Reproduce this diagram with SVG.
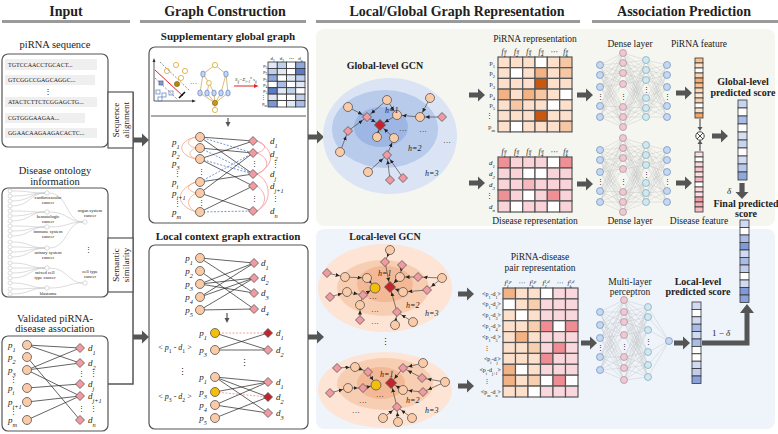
<svg xmlns="http://www.w3.org/2000/svg" width="778" height="434" viewBox="0 0 778 434">
<defs>
<style>
text{font-family:"Liberation Serif","DejaVu Serif",serif;fill:#222}
.h{font-size:14px;font-weight:bold}
.st{font-size:11px;font-weight:bold}
.lb{font-size:10.5px}
.sm{font-size:9.5px}
.bs{font-size:10px;font-weight:bold}
.bx{fill:#fff;stroke:#555;stroke-width:1.2}
.pc{fill:#fbcaa6;stroke:#555;stroke-width:.8}
.dd{fill:#f29aa2;stroke:#555;stroke-width:.8}
.dr{fill:#c3232b;stroke:#555;stroke-width:.8}
.yc{fill:#f4bf0c;stroke:#555;stroke-width:.8}
.e{stroke:#222;stroke-width:.7;fill:none}
.bd{stroke:#4f7fcf;stroke-width:.8;stroke-dasharray:2 1.5;fill:none}
.oa{stroke:#f2a27e;stroke-width:.8;fill:none}
.pa{stroke:#f2959c;stroke-width:.8;fill:none}
.pd{stroke:#f08a8a;stroke-width:.8;stroke-dasharray:2 1.5;fill:none}
.ge{stroke:#333;stroke-width:.6;marker-end:url(#ah)}
.it{font-style:italic}
.sb{font-size:70%;baseline-shift:sub}
.sp{font-size:65%;baseline-shift:super}
.ar{fill:#555}
.cl rect{stroke:#555;stroke-width:1.2}
.vc rect{stroke:#333;stroke-width:.8}
.nn{stroke:#bdbdbd;stroke-width:.35;fill:none}
.n1{fill:#c6d8f0;stroke:#6c8cc2;stroke-width:.7}
.n2{fill:#eccad2;stroke:#b2899a;stroke-width:.7}
.n3{fill:#d2e8ef;stroke:#7ba7bc;stroke-width:.7}
.tl{font-size:4.6px;fill:#555}
.pl{font-size:9px;font-style:italic}
.hl{font-size:8px;font-style:italic}
.lf{fill:#fff;stroke:#c4c4c4;stroke-width:.6}
.vd{font-size:6.5px;font-style:normal}
</style>
<path id="dm" d="M0-4.5L4.5 0L0 4.5L-4.5 0Z"/>
<path id="dl" d="M0-5.5L5.5 0L0 5.5L-5.5 0Z"/>
<path id="ar" d="M0-2.6H9V-6.5L16 0L9 6.5V2.6H0Z"/>
<marker id="ah" markerWidth="10" markerHeight="6" refX="9.5" refY="2" orient="auto" markerUnits="userSpaceOnUse"><path d="M0 0L4 2L0 4Z" fill="#222"/></marker>
<g id="net">
<path class="nn" d="M600 65L623 53M600 65L623 63M600 65L623 73M600 65L623 84M600 65L623 107M600 65L623 117M600 65L623 127M600 75L623 53M600 75L623 63M600 75L623 73M600 75L623 84M600 75L623 107M600 75L623 117M600 75L623 127M600 87L623 53M600 87L623 63M600 87L623 73M600 87L623 84M600 87L623 107M600 87L623 117M600 87L623 127M600 106L623 53M600 106L623 63M600 106L623 73M600 106L623 84M600 106L623 107M600 106L623 117M600 106L623 127M600 117L623 53M600 117L623 63M600 117L623 73M600 117L623 84M600 117L623 107M600 117L623 117M600 117L623 127"/>
<path class="nn" d="M623 53L646 60M623 53L646 70M623 53L646 80M623 53L646 98M623 53L646 108M623 53L646 117M623 63L646 60M623 63L646 70M623 63L646 80M623 63L646 98M623 63L646 108M623 63L646 117M623 73L646 60M623 73L646 70M623 73L646 80M623 73L646 98M623 73L646 108M623 73L646 117M623 84L646 60M623 84L646 70M623 84L646 80M623 84L646 98M623 84L646 108M623 84L646 117M623 107L646 60M623 107L646 70M623 107L646 80M623 107L646 98M623 107L646 108M623 107L646 117M623 117L646 60M623 117L646 70M623 117L646 80M623 117L646 98M623 117L646 108M623 117L646 117M623 127L646 60M623 127L646 70M623 127L646 80M623 127L646 98M623 127L646 108M623 127L646 117"/>
<path class="nn" d="M646 60L667 65M646 60L667 75M646 60L667 87M646 60L667 106M646 60L667 117M646 70L667 65M646 70L667 75M646 70L667 87M646 70L667 106M646 70L667 117M646 80L667 65M646 80L667 75M646 80L667 87M646 80L667 106M646 80L667 117M646 98L667 65M646 98L667 75M646 98L667 87M646 98L667 106M646 98L667 117M646 108L667 65M646 108L667 75M646 108L667 87M646 108L667 106M646 108L667 117M646 117L667 65M646 117L667 75M646 117L667 87M646 117L667 106M646 117L667 117"/>
<g class="n1"><circle cx="600" cy="65" r="3.5"/><circle cx="600" cy="75" r="3.5"/><circle cx="600" cy="87" r="3.5"/><circle cx="600" cy="106" r="3.5"/><circle cx="600" cy="117" r="3.5"/></g>
<g class="n2"><circle cx="623" cy="53" r="3.5"/><circle cx="623" cy="63" r="3.5"/><circle cx="623" cy="73" r="3.5"/><circle cx="623" cy="84" r="3.5"/><circle cx="623" cy="107" r="3.5"/><circle cx="623" cy="117" r="3.5"/><circle cx="623" cy="127" r="3.5"/></g>
<g class="n3"><circle cx="646" cy="60" r="3.5"/><circle cx="646" cy="70" r="3.5"/><circle cx="646" cy="80" r="3.5"/><circle cx="646" cy="98" r="3.5"/><circle cx="646" cy="108" r="3.5"/><circle cx="646" cy="117" r="3.5"/></g>
<g class="n1"><circle cx="667" cy="65" r="3.5"/><circle cx="667" cy="75" r="3.5"/><circle cx="667" cy="87" r="3.5"/><circle cx="667" cy="106" r="3.5"/><circle cx="667" cy="117" r="3.5"/></g>
<g font-size="7" text-anchor="middle"><text x="600" y="99">⋮</text><text x="623" y="99">⋮</text><text x="646" y="92">⋮</text><text x="667" y="99">⋮</text></g>
</g>
</defs>
<rect width="778" height="434" fill="#fff"/>

<!-- panels -->
<rect x="316" y="29" width="459" height="197" rx="8" fill="#f5f6f0"/>
<rect x="316" y="229" width="459" height="200" rx="8" fill="#eef4fa"/>

<!-- headers -->
<g id="headers">
<text class="h" x="66" y="16" text-anchor="middle">Input</text>
<text class="h" x="225" y="16" text-anchor="middle">Graph Construction</text>
<text class="h" x="457" y="16" text-anchor="middle">Local/Global Graph Representation</text>
<text class="h" x="684" y="16" text-anchor="middle">Association Prediction</text>
<g fill="#9a9a9a"><rect x="2" y="20" width="128" height="3"/><rect x="140" y="20" width="166" height="3"/><rect x="316" y="20" width="264" height="3"/><rect x="592" y="20" width="186" height="3"/></g>
</g>

<!-- connectors -->
<g id="connectors">
<path d="M133 92V384H108" fill="none" stroke="#555" stroke-width="1.5"/>
<use href="#ar" class="ar" transform="translate(133 140)"/>
<use href="#ar" class="ar" transform="translate(133 337)"/>
<use href="#ar" class="ar" transform="translate(308 137)"/>
<use href="#ar" class="ar" transform="translate(308 337)"/>
<use href="#ar" class="ar" transform="translate(469 95)"/>
<use href="#ar" class="ar" transform="translate(469 183)"/>
<use href="#ar" class="ar" transform="translate(577 95)"/>
<use href="#ar" class="ar" transform="translate(577 184)"/>
<use href="#ar" class="ar" transform="translate(458 294)"/>
<use href="#ar" class="ar" transform="translate(458 386)"/>
<use href="#ar" class="ar" transform="translate(581 343)"/>
<use href="#ar" class="ar" transform="translate(676 93)"/>
<use href="#ar" class="ar" transform="translate(676 183)"/>
<use href="#ar" class="ar" transform="translate(674 343)"/>
<use href="#ar" class="ar" transform="translate(712 136)"/>
<use href="#ar" class="ar" transform="translate(742 183) rotate(90)"/>
<path class="ar" d="M702 340.5H744.5V313H740L747 304L754 313H749.5V345.5H702Z"/>
<path d="M700 119V128M700 151V143" stroke="#555" stroke-width="1.2"/>
<path d="M697.5 127L700 131L702.5 127ZM697.5 144L700 140L702.5 144Z" fill="#555"/>
</g>

<!-- Input: piRNA sequence -->
<g id="pirna-sequence">
<text class="lb" x="55" y="48" text-anchor="middle">piRNA sequence</text>
<rect class="bx" x="2" y="54" width="106" height="93" rx="6"/>
<g fill="#efefef"><rect x="5" y="59" width="92" height="11"/><rect x="5" y="75" width="90" height="10"/><rect x="5" y="97" width="92" height="10"/><rect x="5" y="113" width="80" height="10"/><rect x="5" y="128" width="92" height="10"/></g>
<g font-size="6"><text x="8" y="66.5">TGTCCAACCTGCACT...</text><text x="8" y="82">GTCGGCCGAGCAGGC...</text><text x="8" y="104">ATACTCTTCTCGGAGCTG...</text><text x="8" y="120">CGTGGGAAGAA...</text><text x="8" y="135">GGAACAAGAAGACACTC...</text></g>
<text x="48" y="94" font-size="8" text-anchor="middle">⋮</text>
</g>
<g id="sequence-alignment">
<rect x="108" y="92" width="25" height="56" fill="#fff" stroke="#555" stroke-width="1.2"/>
<text font-size="9" text-anchor="middle" transform="translate(121 120) rotate(-90)"><tspan x="0" y="-2">Sequence</tspan><tspan x="0" y="8">alignment</tspan></text>
</g>

<!-- Input: disease ontology -->
<g id="disease-ontology">
<text class="lb" x="55" y="174" text-anchor="middle">Disease ontology</text>
<text class="lb" x="55" y="184.5" text-anchor="middle">information</text>
<rect class="bx" x="2" y="188" width="106" height="109" rx="6"/>
<g stroke="#c4c4c4" stroke-width=".6" fill="none">
<path d="M12 191C30 191 30 193 45 193M12 196C30 196 30 193 45 193M12 201C30 201 30 193 45 193M12 206C30 206 30 193 45 193"/>
<path d="M12 211C30 211 30 212 45 212M12 216C30 216 30 212 45 212M12 221C30 221 30 212 45 212"/>
<path d="M12 226C30 226 30 227 45 227M12 231C30 231 30 227 45 227M12 236C30 236 30 227 45 227"/>
<path d="M12 242C30 242 30 248 45 248M12 247C30 247 30 248 45 248M12 252C30 252 30 248 45 248M12 257C30 257 30 248 45 248"/>
<path d="M12 263C30 263 30 268 45 268M12 268C30 268 30 268 45 268M12 273C30 273 30 268 45 268M12 278C30 278 30 268 45 268"/>
<path d="M12 283C30 283 30 288 45 288M12 289C30 289 30 288 45 288M12 294C30 294 30 288 45 288"/>
<path d="M49 193C68 193 66 222 83 222M49 212C68 212 68 222 83 222M49 227C68 227 68 222 83 222M49 248C68 248 66 222 83 222"/>
<path d="M49 268C68 268 68 283 83 283M49 288C68 288 68 283 83 283"/>
</g>
<g class="lf">
<circle cx="10" cy="191" r="2"/><circle cx="10" cy="196" r="2"/><circle cx="10" cy="201" r="2"/><circle cx="10" cy="206" r="2"/><circle cx="10" cy="211" r="2"/><circle cx="10" cy="216" r="2"/><circle cx="10" cy="221" r="2"/><circle cx="10" cy="226" r="2"/><circle cx="10" cy="231" r="2"/><circle cx="10" cy="236" r="2"/><circle cx="10" cy="242" r="2"/><circle cx="10" cy="247" r="2"/><circle cx="10" cy="252" r="2"/><circle cx="10" cy="257" r="2"/><circle cx="10" cy="263" r="2"/><circle cx="10" cy="268" r="2"/><circle cx="10" cy="273" r="2"/><circle cx="10" cy="278" r="2"/><circle cx="10" cy="283" r="2"/><circle cx="10" cy="289" r="2"/><circle cx="10" cy="294" r="2"/>
<circle cx="47" cy="193" r="2.2"/><circle cx="47" cy="212" r="2.2"/><circle cx="47" cy="227" r="2.2"/><circle cx="47" cy="248" r="2.2"/><circle cx="47" cy="268" r="2.2"/><circle cx="47" cy="288" r="2.2"/><circle cx="85" cy="222" r="2.2"/><circle cx="85" cy="283" r="2.2"/>
</g>
<g class="tl" text-anchor="middle">
<text x="48" y="199">cardiovascular</text><text x="48" y="204">cancer</text>
<text x="48" y="218">hematologic</text><text x="48" y="223">cancer</text>
<text x="48" y="232.5">immune system</text><text x="48" y="237.5">cancer</text>
<text x="48" y="254">urinary system</text><text x="48" y="259">cancer</text>
<text x="45" y="274">mixed cell</text><text x="45" y="279">type cancer</text>
<text x="48" y="295">blastoma</text>
<text x="90" y="212">organ system</text><text x="90" y="217">cancer</text>
<text x="90" y="273">cell type</text><text x="90" y="278">cancer</text>
</g>
<text x="88" y="252" font-size="7" text-anchor="middle" fill="#555">⋮</text>
</g>
<g id="semantic-similarity">
<rect x="108" y="238" width="25" height="54" fill="#fff" stroke="#555" stroke-width="1.2"/>
<text font-size="9" text-anchor="middle" transform="translate(121 265) rotate(-90)"><tspan x="0" y="-2">Semantic</tspan><tspan x="0" y="8">similarity</tspan></text>
</g>

<!-- Input: validated associations -->
<g id="validated-association">
<text class="lb" x="55" y="322" text-anchor="middle">Validated piRNA-</text>
<text class="lb" x="55" y="332" text-anchor="middle">disease association</text>
<rect class="bx" x="2" y="336" width="106" height="95" rx="6"/>
<path class="e" d="M27 345L80 348M27 345L80 363M27 357L80 420M27 370L80 348M27 370L80 363M27 370L80 396M27 388L80 384M27 402L80 396M27 420L80 396"/>
<g class="pc"><circle cx="27" cy="345" r="4.5"/><circle cx="27" cy="357" r="4.5"/><circle cx="27" cy="370" r="4.5"/><circle cx="27" cy="388" r="4.5"/><circle cx="27" cy="402" r="4.5"/><circle cx="27" cy="420" r="4.5"/></g>
<g class="dd"><use href="#dm" x="80" y="348"/><use href="#dm" x="80" y="363"/><use href="#dm" x="80" y="384"/><use href="#dm" x="80" y="396"/><use href="#dm" x="80" y="420"/></g>
<g class="pl"><text x="8" y="348">p<tspan class="sb">1</tspan></text><text x="8" y="360">p<tspan class="sb">2</tspan></text><text x="8" y="373">p<tspan class="sb">3</tspan></text><text class="vd" x="10" y="382">⋮</text><text x="8" y="391">p<tspan class="sb">i</tspan></text><text x="8" y="405">p<tspan class="sb">i+1</tspan></text><text class="vd" x="10" y="414">⋮</text><text x="8" y="423">p<tspan class="sb">m</tspan></text>
<text x="88" y="351">d<tspan class="sb">1</tspan></text><text x="88" y="366">d<tspan class="sb">2</tspan></text><text class="vd" x="90" y="376">⋮</text><text x="88" y="387">d<tspan class="sb">j</tspan></text><text x="88" y="399">d<tspan class="sb">j+1</tspan></text><text class="vd" x="90" y="411">⋮</text><text x="88" y="423">d<tspan class="sb">n</tspan></text>
<text class="vd" x="78" y="376">⋮</text><text class="vd" x="78" y="411">⋮</text></g>
</g>

<!-- Graph construction: supplementary global graph -->
<g id="supplementary-global-graph">
<text class="st" x="228" y="40" text-anchor="middle">Supplementary  global graph</text>
<rect class="bx" x="149" y="47" width="159" height="176" rx="6"/>
<path d="M154 101V60M154 101H194" stroke="#333" stroke-width=".8" fill="none"/>
<path d="M152.5 62L154 58L155.5 62ZM192 99.5L196 101L192 102.5Z" fill="#333"/>
<path d="M155 70L183 96" stroke="#e02424" stroke-width="1"/>
<path d="M155 78L178 100M160 62L190 91" stroke="#444" stroke-width=".6" stroke-dasharray="2 1.5"/>
<path d="M179 98L185 92" stroke="#111" stroke-width="1.6"/>
<g fill="none" stroke="#d9a628" stroke-width=".8"><circle cx="167" cy="71" r="2.6"/><circle cx="176" cy="65" r="2.6"/><circle cx="185" cy="71" r="2.6"/><circle cx="181" cy="78" r="2.6"/></g>
<circle cx="177" cy="84" r="2.6" fill="#b8860b" stroke="#7a5a08" stroke-width=".6"/>
<g fill="none" stroke="#6b8cc8" stroke-width=".8"><rect x="156" y="90" width="4" height="4"/><rect x="162" y="93" width="4" height="4"/><rect x="169" y="91" width="4" height="4"/><rect x="158" y="97" width="4" height="4"/></g>
<rect x="159" y="81" width="4" height="4" fill="#8a9ab8" stroke="#4f6fa8" stroke-width=".8"/>
<text x="190" y="86" font-size="7">···</text>
<path d="M215 65L203 74M215 65L226 74M203 74L200 93M203 74L209 83M226 74L228 93M226 74L221 93M209 83L207 93M209 83L214 93M200 93L215 103M207 93L215 103M214 93L215 103M221 93L215 103M228 93L215 103M215 103L215 110" stroke="#c9a040" stroke-width=".7" fill="none"/>
<g fill="#fff" stroke="#d9a628" stroke-width=".8"><circle cx="215" cy="65" r="2.6"/><circle cx="209" cy="83" r="2.4"/><circle cx="215" cy="110" r="2.6"/></g>
<g fill="#c6d5f0" stroke="#5a80c8" stroke-width=".7"><ellipse cx="203" cy="74" rx="2.2" ry="3"/><ellipse cx="226" cy="74" rx="2.2" ry="3"/><ellipse cx="200" cy="93" rx="2.2" ry="3"/><ellipse cx="207" cy="93" rx="2.2" ry="3"/><ellipse cx="214" cy="93" rx="2.2" ry="3"/><ellipse cx="221" cy="93" rx="2.2" ry="3"/><ellipse cx="228" cy="93" rx="2.2" ry="3"/></g>
<circle cx="215" cy="103" r="2.6" fill="#c99a1a" stroke="#7a5a08" stroke-width=".6"/>
<text x="235" y="81" font-size="4.8" class="it">S<tspan class="sb">ij</tspan>=Σ<tspan class="sb">i=1</tspan><tspan class="sp">n</tspan> s<tspan class="sb">ij</tspan></text>
<path d="M234 86H255" stroke="#e02424" stroke-width="1"/>
<path d="M254 84L258.5 86L254 88Z" fill="#e02424"/>
<g class="vc">
<rect x="268" y="62" width="9.25" height="6.43" fill="#e0e8f6"/><rect x="277.25" y="62" width="9.25" height="6.43" fill="#c0cfec"/><rect x="286.5" y="62" width="9.25" height="6.43" fill="#fff"/><rect x="295.75" y="62" width="9.25" height="6.43" fill="#8ea8dc"/>
<rect x="268" y="68.43" width="9.25" height="6.43" fill="#c0cfec"/><rect x="277.25" y="68.43" width="9.25" height="6.43" fill="#e0e8f6"/><rect x="286.5" y="68.43" width="9.25" height="6.43" fill="#fff"/><rect x="295.75" y="68.43" width="9.25" height="6.43" fill="#5c7bc4"/>
<rect x="268" y="74.86" width="9.25" height="6.43" fill="#8ea8dc"/><rect x="277.25" y="74.86" width="9.25" height="6.43" fill="#fff"/><rect x="286.5" y="74.86" width="9.25" height="6.43" fill="#e0e8f6"/><rect x="295.75" y="74.86" width="9.25" height="6.43" fill="#c0cfec"/>
<rect x="268" y="81.29" width="9.25" height="6.43" fill="#fff"/><rect x="277.25" y="81.29" width="9.25" height="6.43" fill="#a8bce6"/><rect x="286.5" y="81.29" width="9.25" height="6.43" fill="#fff"/><rect x="295.75" y="81.29" width="9.25" height="6.43" fill="#e0e8f6"/>
<rect x="268" y="87.71" width="9.25" height="6.43" fill="#5c7bc4"/><rect x="277.25" y="87.71" width="9.25" height="6.43" fill="#e0e8f6"/><rect x="286.5" y="87.71" width="9.25" height="6.43" fill="#c0cfec"/><rect x="295.75" y="87.71" width="9.25" height="6.43" fill="#fff"/>
<rect x="268" y="94.14" width="9.25" height="6.43" fill="#e0e8f6"/><rect x="277.25" y="94.14" width="9.25" height="6.43" fill="#fff"/><rect x="286.5" y="94.14" width="9.25" height="6.43" fill="#fff"/><rect x="295.75" y="94.14" width="9.25" height="6.43" fill="#c0cfec"/>
<rect x="268" y="100.57" width="9.25" height="6.43" fill="#7c96d4"/><rect x="277.25" y="100.57" width="9.25" height="6.43" fill="#fff"/><rect x="286.5" y="100.57" width="9.25" height="6.43" fill="#e0e8f6"/><rect x="295.75" y="100.57" width="9.25" height="6.43" fill="#a8bce6"/>
</g>
<g font-size="5" text-anchor="middle"><text x="272.6" y="60">d<tspan class="sb">1</tspan></text><text x="281.9" y="60">d<tspan class="sb">2</tspan></text><text x="291.1" y="60">⋯</text><text x="300.4" y="60">d<tspan class="sb">n</tspan></text></g>
<g font-size="4.5" text-anchor="end"><text x="267" y="66.7">p<tspan class="sb">1</tspan></text><text x="267" y="73.1">p<tspan class="sb">2</tspan></text><text x="267" y="79.6">p<tspan class="sb">3</tspan></text><text x="267" y="86">p<tspan class="sb">4</tspan></text><text x="267" y="92.4">p<tspan class="sb">5</tspan></text><text x="266" y="98.9">⋮</text><text x="267" y="105.3">p<tspan class="sb">m</tspan></text></g>
<path d="M151 116H306" stroke="#aaa" stroke-width="2"/>
<path d="M228 118V123" stroke="#555" stroke-width="1.2"/><path d="M225.5 122L228 127L230.5 122Z" fill="#555"/>
<path class="oa" d="M196 137C186 139 186 146 196 148M196 137C177 141 177 155 196 159M196 148C188 151 188 156 196 159M196 182C186 185 186 190 196 193M196 182C175 190 175 205 196 212M196 193C186 199 186 206 196 212"/>
<path class="pa" d="M257 141C267 144 267 150 257 153M257 153C270 158 270 169 257 174M257 174C272 182 272 203 257 211M257 186C267 193 267 204 257 211M257 141C275 150 275 165 257 174"/>
<path class="bd" d="M200 137L253 153M200 148L253 174M200 159L253 174M200 182L253 153M200 212L253 211"/>
<path class="e" d="M200 137L253 141M200 137L253 174M200 148L253 153M200 159L253 141M200 159L253 186M200 182L253 174M200 193L253 153M200 193L253 211M200 212L253 186"/>
<g class="pc"><circle cx="200" cy="137" r="4.5"/><circle cx="200" cy="148" r="4.5"/><circle cx="200" cy="159" r="4.5"/><circle cx="200" cy="182" r="4.5"/><circle cx="200" cy="193" r="4.5"/><circle cx="200" cy="212" r="4.5"/></g>
<g class="dd"><use href="#dm" x="253" y="141"/><use href="#dm" x="253" y="153"/><use href="#dm" x="253" y="174"/><use href="#dm" x="253" y="186"/><use href="#dm" x="253" y="211"/></g>
<g class="pl"><text x="172" y="145">p<tspan class="sb">1</tspan></text><text x="172" y="155">p<tspan class="sb">2</tspan></text><text x="172" y="166">p<tspan class="sb">3</tspan></text><text class="vd" x="174" y="175.5">⋮</text><text x="172" y="185">p<tspan class="sb">i</tspan></text><text x="172" y="196">p<tspan class="sb">i+1</tspan></text><text class="vd" x="174" y="206">⋮</text><text x="172" y="215">p<tspan class="sb">m</tspan></text>
<text class="vd" x="198" y="174">⋮</text><text class="vd" x="198" y="205">⋮</text><text class="vd" x="251" y="166">⋮</text><text class="vd" x="251" y="201">⋮</text>
<text x="270" y="144">d<tspan class="sb">1</tspan></text><text x="270" y="157">d<tspan class="sb">2</tspan></text><text class="vd" x="272" y="166.5">⋮</text><text x="270" y="177">d<tspan class="sb">j</tspan></text><text x="270" y="189">d<tspan class="sb">j+1</tspan></text><text class="vd" x="272" y="201">⋮</text><text x="270" y="214">d<tspan class="sb">n</tspan></text></g>
</g>

<!-- Graph construction: local context graph extraction -->
<g id="local-context-graph">
<text class="st" x="228" y="240" text-anchor="middle">Local context graph extraction</text>
<rect class="bx" x="149" y="245" width="159" height="184" rx="6"/>
<path class="e" d="M200 258L254 263M200 258L254 293M200 271L254 309M200 284L254 263M200 284L254 278M200 284L254 293M200 297L254 263M200 297L254 278M200 310L254 278M200 310L254 309"/>
<g class="pc"><circle cx="200" cy="258" r="4.5"/><circle cx="200" cy="271" r="4.5"/><circle cx="200" cy="284" r="4.5"/><circle cx="200" cy="297" r="4.5"/><circle cx="200" cy="310" r="4.5"/></g>
<g class="dd"><use href="#dm" x="254" y="263"/><use href="#dm" x="254" y="278"/><use href="#dm" x="254" y="293"/><use href="#dm" x="254" y="309"/></g>
<g class="pl"><text x="193" y="261" text-anchor="end">p<tspan class="sb">1</tspan></text><text x="193" y="274" text-anchor="end">p<tspan class="sb">2</tspan></text><text x="193" y="287" text-anchor="end">p<tspan class="sb">3</tspan></text><text x="193" y="300" text-anchor="end">p<tspan class="sb">4</tspan></text><text x="193" y="313" text-anchor="end">p<tspan class="sb">5</tspan></text>
<text x="261" y="266">d<tspan class="sb">1</tspan></text><text x="261" y="281">d<tspan class="sb">2</tspan></text><text x="261" y="296">d<tspan class="sb">3</tspan></text><text x="261" y="312">d<tspan class="sb">4</tspan></text></g>
<path d="M227 313V319" stroke="#555" stroke-width="1.2"/><path d="M224.5 318L227 323L229.5 318Z" fill="#555"/>
<path class="pd" d="M215 333L268 333"/>
<path class="e" d="M215 333L268 350M215 350L268 333M215 350L268 350"/>
<circle class="yc" cx="215" cy="333" r="4.5"/><circle class="pc" cx="215" cy="350" r="4.5"/>
<use href="#dm" class="dr" x="268" y="333"/><use href="#dm" class="dd" x="268" y="350"/>
<g class="pl"><text x="207" y="336" text-anchor="end">p<tspan class="sb">1</tspan></text><text x="207" y="353" text-anchor="end">p<tspan class="sb">3</tspan></text><text x="276" y="336">d<tspan class="sb">1</tspan></text><text x="276" y="353">d<tspan class="sb">2</tspan></text>
<text x="178" y="375" font-style="normal">⋮</text><text x="240" y="366" font-style="normal">⋮</text></g>
<text x="175" y="350" font-size="8" text-anchor="middle">&lt; <tspan class="it">p</tspan><tspan class="sb">1</tspan> - <tspan class="it">d</tspan><tspan class="sb">1</tspan> &gt;</text>
<path class="pd" d="M215 392L268 397"/>
<path class="e" d="M215 377L268 382M215 377L268 397M215 377L268 413M215 392L268 382M215 405L268 382M215 405L268 413M215 418L268 397"/>
<g class="pc"><circle cx="215" cy="377" r="4.5"/><circle cx="215" cy="405" r="4.5"/><circle cx="215" cy="418" r="4.5"/></g>
<circle class="yc" cx="215" cy="392" r="4.5"/>
<use href="#dm" class="dd" x="268" y="382"/><use href="#dm" class="dr" x="268" y="397"/><use href="#dm" class="dd" x="268" y="413"/>
<g class="pl"><text x="207" y="380" text-anchor="end">p<tspan class="sb">1</tspan></text><text x="207" y="395" text-anchor="end">p<tspan class="sb">3</tspan></text><text x="207" y="408" text-anchor="end">p<tspan class="sb">4</tspan></text><text x="207" y="421" text-anchor="end">p<tspan class="sb">5</tspan></text>
<text x="276" y="385">d<tspan class="sb">1</tspan></text><text x="276" y="400">d<tspan class="sb">2</tspan></text><text x="276" y="416">d<tspan class="sb">3</tspan></text></g>
<text x="175" y="399" font-size="8" text-anchor="middle">&lt; <tspan class="it">p</tspan><tspan class="sb">3</tspan> - <tspan class="it">d</tspan><tspan class="sb">2</tspan> &gt;</text>
</g>

<!-- Global-level GCN -->
<g id="global-gcn">
<text class="bs" x="385" y="69" text-anchor="middle">Global-level GCN</text>
<ellipse cx="390" cy="136" rx="67" ry="58" fill="#dae4f4"/>
<ellipse cx="385" cy="129" rx="53" ry="39" fill="#b9cbeb"/>
<ellipse cx="381" cy="127" rx="27" ry="20" fill="#9db6e3"/>
<g class="ge"><line x1="348" y1="107" x2="367" y2="117"/><line x1="387" y1="100" x2="367" y2="117"/><line x1="387" y1="100" x2="397" y2="115"/><line x1="367" y1="117" x2="380" y2="125"/><line x1="397" y1="115" x2="380" y2="125"/><line x1="377" y1="137" x2="380" y2="125"/><line x1="394" y1="138" x2="380" y2="125"/><line x1="348" y1="131" x2="367" y2="117"/><line x1="340" y1="152" x2="348" y2="131"/><line x1="387" y1="155" x2="394" y2="138"/><line x1="368" y1="172" x2="387" y2="155"/><line x1="390" y1="180" x2="387" y2="155"/><line x1="403" y1="178" x2="387" y2="155"/><line x1="420" y1="117" x2="397" y2="115"/><line x1="430" y1="98" x2="420" y2="117"/><line x1="442" y1="117" x2="420" y2="117"/></g>
<g class="pc"><circle cx="348" cy="107" r="4.5"/><circle cx="387" cy="100" r="4.5"/><circle cx="397" cy="115" r="4.5"/><circle cx="377" cy="137" r="4.5"/><circle cx="394" cy="138" r="4.5"/><circle cx="340" cy="152" r="4.5"/><circle cx="368" cy="172" r="4.5"/><circle cx="420" cy="117" r="4.5"/><circle cx="430" cy="98" r="4.5"/></g>
<g class="dd"><use href="#dm" x="367" y="117"/><use href="#dm" x="348" y="131"/><use href="#dm" x="387" y="155"/><use href="#dm" x="390" y="180"/><use href="#dm" x="403" y="178"/><use href="#dm" x="442" y="117"/></g>
<use href="#dl" class="dr" x="380" y="125"/>
<g class="hl"><text x="385" y="113">h=1</text><text x="408" y="151">h=2</text><text x="425" y="176">h=3</text></g>
<g font-size="8"><text x="399" y="133">···</text><text x="419" y="134">···</text><text x="443" y="145">···</text></g>
</g>

<!-- Local-level GCN -->
<g id="local-gcn">
<text class="bs" x="385" y="240" text-anchor="middle">Local-level GCN</text>
<ellipse cx="385" cy="288" rx="67" ry="44" fill="#fde4d5"/>
<ellipse cx="383" cy="288" rx="46" ry="28" fill="#f8ceb2"/>
<ellipse cx="385" cy="284" rx="28" ry="18" fill="#f3b896"/>
<ellipse cx="385" cy="390" rx="67" ry="38" fill="#fde4d5"/>
<ellipse cx="385" cy="384" rx="48" ry="26" fill="#f8ceb2"/>
<ellipse cx="381" cy="383" rx="24" ry="16" fill="#f3b896"/>
<g class="ge"><line x1="390" y1="250" x2="385" y2="262"/><line x1="385" y1="262" x2="390" y2="287"/><line x1="402" y1="265" x2="400" y2="277"/><line x1="400" y1="277" x2="390" y2="287"/><line x1="418" y1="277" x2="400" y2="277"/><line x1="442" y1="278" x2="418" y2="277"/><line x1="442" y1="278" x2="427" y2="290"/><line x1="427" y1="290" x2="403" y2="292"/><line x1="403" y1="292" x2="390" y2="287"/><line x1="327" y1="273" x2="345" y2="277"/><line x1="345" y1="277" x2="367" y2="278"/><line x1="367" y1="278" x2="375" y2="288"/><line x1="330" y1="297" x2="347" y2="292"/><line x1="347" y1="292" x2="363" y2="295"/><line x1="363" y1="295" x2="375" y2="288"/><line x1="360" y1="305" x2="363" y2="295"/><line x1="360" y1="320" x2="360" y2="305"/><line x1="397" y1="312" x2="390" y2="287"/><line x1="395" y1="325" x2="397" y2="312"/><line x1="413" y1="322" x2="397" y2="312"/>
<line x1="337" y1="368" x2="355" y2="367"/><line x1="355" y1="367" x2="368" y2="372"/><line x1="368" y1="372" x2="376" y2="385"/><line x1="330" y1="393" x2="348" y2="388"/><line x1="348" y1="388" x2="363" y2="388"/><line x1="363" y1="388" x2="376" y2="385"/><line x1="403" y1="368" x2="391" y2="383"/><line x1="423" y1="363" x2="403" y2="368"/><line x1="422" y1="378" x2="403" y2="368"/><line x1="445" y1="382" x2="422" y2="378"/><line x1="445" y1="382" x2="423" y2="392"/><line x1="423" y1="392" x2="403" y2="390"/><line x1="403" y1="390" x2="391" y2="383"/><line x1="397" y1="407" x2="391" y2="383"/><line x1="383" y1="418" x2="397" y2="407"/><line x1="398" y1="422" x2="397" y2="407"/><line x1="412" y1="418" x2="397" y2="407"/></g>
<g class="pc"><circle cx="390" cy="250" r="4.5"/><circle cx="400" cy="277" r="4.5"/><circle cx="442" cy="278" r="4.5"/><circle cx="403" cy="292" r="4.5"/><circle cx="345" cy="277" r="4.5"/><circle cx="367" cy="278" r="4.5"/><circle cx="347" cy="292" r="4.5"/><circle cx="360" cy="305" r="4.5"/><circle cx="395" cy="325" r="4.5"/><circle cx="413" cy="322" r="4.5"/>
<circle cx="355" cy="367" r="4.5"/><circle cx="348" cy="388" r="4.5"/><circle cx="423" cy="363" r="4.5"/><circle cx="445" cy="382" r="4.5"/><circle cx="403" cy="390" r="4.5"/><circle cx="383" cy="418" r="4.5"/><circle cx="398" cy="422" r="4.5"/><circle cx="412" cy="418" r="4.5"/></g>
<g class="dd"><use href="#dm" x="385" y="262"/><use href="#dm" x="402" y="265"/><use href="#dm" x="418" y="277"/><use href="#dm" x="427" y="290"/><use href="#dm" x="327" y="273"/><use href="#dm" x="330" y="297"/><use href="#dm" x="363" y="295"/><use href="#dm" x="360" y="320"/><use href="#dm" x="397" y="312"/>
<use href="#dm" x="337" y="368"/><use href="#dm" x="368" y="372"/><use href="#dm" x="330" y="393"/><use href="#dm" x="363" y="388"/><use href="#dm" x="403" y="368"/><use href="#dm" x="422" y="378"/><use href="#dm" x="423" y="392"/><use href="#dm" x="397" y="407"/></g>
<circle class="yc" cx="375" cy="288" r="5"/><use href="#dl" class="dr" x="390" y="287"/>
<circle class="yc" cx="376" cy="385" r="5"/><use href="#dl" class="dr" x="391" y="383"/>
<g class="hl"><text x="378" y="276">h=1</text><text x="406" y="308">h=2</text><text x="425" y="316">h=3</text><text x="380" y="377">h=1</text><text x="406" y="403">h=2</text><text x="425" y="413">h=3</text></g>
<g font-size="8"><text x="369" y="301">···</text><text x="371" y="314">···</text><text x="371" y="326">···</text><text x="376" y="399">···</text><text x="359" y="405">···</text><text x="352" y="415">···</text></g>
<text x="385" y="345" font-size="9" text-anchor="middle">⋮</text>
</g>

<!-- PiRNA representation -->
<g id="pirna-representation">
<text class="sm" x="535" y="42" text-anchor="middle">PiRNA representation</text>
<g class="cl">
<rect x="498" y="57" width="12.3" height="10.7" fill="#fce0cc"/><rect x="510.3" y="57" width="12.3" height="10.7" fill="#fce0cc"/><rect x="522.7" y="57" width="12.3" height="10.7" fill="#fce0cc"/><rect x="535" y="57" width="12.3" height="10.7" fill="#fff"/><rect x="547.3" y="57" width="12.3" height="10.7" fill="#fce0cc"/><rect x="559.7" y="57" width="12.3" height="10.7" fill="#f6c7a4"/>
<rect x="498" y="67.7" width="12.3" height="10.7" fill="#fce0cc"/><rect x="510.3" y="67.7" width="12.3" height="10.7" fill="#fff"/><rect x="522.7" y="67.7" width="12.3" height="10.7" fill="#fce0cc"/><rect x="535" y="67.7" width="12.3" height="10.7" fill="#f3b283"/><rect x="547.3" y="67.7" width="12.3" height="10.7" fill="#fce0cc"/><rect x="559.7" y="67.7" width="12.3" height="10.7" fill="#f6c7a4"/>
<rect x="498" y="78.4" width="12.3" height="10.7" fill="#fce0cc"/><rect x="510.3" y="78.4" width="12.3" height="10.7" fill="#fce0cc"/><rect x="522.7" y="78.4" width="12.3" height="10.7" fill="#fce0cc"/><rect x="535" y="78.4" width="12.3" height="10.7" fill="#c8580f"/><rect x="547.3" y="78.4" width="12.3" height="10.7" fill="#fce0cc"/><rect x="559.7" y="78.4" width="12.3" height="10.7" fill="#fce0cc"/>
<rect x="498" y="89.1" width="12.3" height="10.7" fill="#f3b283"/><rect x="510.3" y="89.1" width="12.3" height="10.7" fill="#fce0cc"/><rect x="522.7" y="89.1" width="12.3" height="10.7" fill="#f3b283"/><rect x="535" y="89.1" width="12.3" height="10.7" fill="#f6c7a4"/><rect x="547.3" y="89.1" width="12.3" height="10.7" fill="#fce0cc"/><rect x="559.7" y="89.1" width="12.3" height="10.7" fill="#fff"/>
<rect x="498" y="99.8" width="12.3" height="10.7" fill="#fce0cc"/><rect x="510.3" y="99.8" width="12.3" height="10.7" fill="#f6c7a4"/><rect x="522.7" y="99.8" width="12.3" height="10.7" fill="#fce0cc"/><rect x="535" y="99.8" width="12.3" height="10.7" fill="#fce0cc"/><rect x="547.3" y="99.8" width="12.3" height="10.7" fill="#fff"/><rect x="559.7" y="99.8" width="12.3" height="10.7" fill="#fce0cc"/>
<rect x="498" y="110.5" width="12.3" height="10.7" fill="#fce0cc"/><rect x="510.3" y="110.5" width="12.3" height="10.7" fill="#fce0cc"/><rect x="522.7" y="110.5" width="12.3" height="10.7" fill="#fce0cc"/><rect x="535" y="110.5" width="12.3" height="10.7" fill="#c8580f"/><rect x="547.3" y="110.5" width="12.3" height="10.7" fill="#fce0cc"/><rect x="559.7" y="110.5" width="12.3" height="10.7" fill="#fce0cc"/>
<rect x="498" y="121.2" width="12.3" height="10.7" fill="#fce0cc"/><rect x="510.3" y="121.2" width="12.3" height="10.7" fill="#fff"/><rect x="522.7" y="121.2" width="12.3" height="10.7" fill="#fce0cc"/><rect x="535" y="121.2" width="12.3" height="10.7" fill="#fce0cc"/><rect x="547.3" y="121.2" width="12.3" height="10.7" fill="#fce0cc"/><rect x="559.7" y="121.2" width="12.3" height="10.7" fill="#f6c7a4"/>
</g>
<g font-size="7.5" class="it" text-anchor="middle"><text x="504" y="54">f<tspan class="sb">1</tspan><tspan class="sp" dx="-2">g</tspan></text><text x="516.5" y="54">f<tspan class="sb">2</tspan><tspan class="sp" dx="-2">g</tspan></text><text x="528.8" y="54">f<tspan class="sb">3</tspan><tspan class="sp" dx="-2">g</tspan></text><text x="541.2" y="54">f<tspan class="sb">4</tspan><tspan class="sp" dx="-2">g</tspan></text><text x="553.5" y="54">⋯</text><text x="565.8" y="54">f<tspan class="sb">k</tspan><tspan class="sp" dx="-2">g</tspan></text></g>
<g font-size="6.5" text-anchor="end"><text x="495" y="64.5">p<tspan class="sb">1</tspan></text><text x="495" y="75">p<tspan class="sb">2</tspan></text><text x="495" y="86">p<tspan class="sb">3</tspan></text><text x="495" y="96.5">p<tspan class="sb">4</tspan></text><text x="495" y="107">p<tspan class="sb">5</tspan></text><text x="493" y="118">⋮</text><text x="495" y="128.5">p<tspan class="sb">m</tspan></text></g>
</g>

<!-- Disease representation -->
<g id="disease-representation">
<g class="cl">
<rect x="498" y="157" width="12.3" height="11" fill="#ef8f96"/><rect x="510.3" y="157" width="12.3" height="11" fill="#f9d3d8"/><rect x="522.7" y="157" width="12.3" height="11" fill="#f9d3d8"/><rect x="535" y="157" width="12.3" height="11" fill="#f9d3d8"/><rect x="547.3" y="157" width="12.3" height="11" fill="#fff"/><rect x="559.7" y="157" width="12.3" height="11" fill="#ef8f96"/>
<rect x="498" y="168" width="12.3" height="11" fill="#f9d3d8"/><rect x="510.3" y="168" width="12.3" height="11" fill="#f9d3d8"/><rect x="522.7" y="168" width="12.3" height="11" fill="#fff"/><rect x="535" y="168" width="12.3" height="11" fill="#fff"/><rect x="547.3" y="168" width="12.3" height="11" fill="#f9d3d8"/><rect x="559.7" y="168" width="12.3" height="11" fill="#f9d3d8"/>
<rect x="498" y="179" width="12.3" height="11" fill="#f9d3d8"/><rect x="510.3" y="179" width="12.3" height="11" fill="#f9d3d8"/><rect x="522.7" y="179" width="12.3" height="11" fill="#f5b8be"/><rect x="535" y="179" width="12.3" height="11" fill="#f9d3d8"/><rect x="547.3" y="179" width="12.3" height="11" fill="#f9d3d8"/><rect x="559.7" y="179" width="12.3" height="11" fill="#f9d3d8"/>
<rect x="498" y="190" width="12.3" height="11" fill="#ef8f96"/><rect x="510.3" y="190" width="12.3" height="11" fill="#f9d3d8"/><rect x="522.7" y="190" width="12.3" height="11" fill="#fff"/><rect x="535" y="190" width="12.3" height="11" fill="#f9d3d8"/><rect x="547.3" y="190" width="12.3" height="11" fill="#ef8f96"/><rect x="559.7" y="190" width="12.3" height="11" fill="#f9d3d8"/>
<rect x="498" y="201" width="12.3" height="11" fill="#f9d3d8"/><rect x="510.3" y="201" width="12.3" height="11" fill="#fff"/><rect x="522.7" y="201" width="12.3" height="11" fill="#f9d3d8"/><rect x="535" y="201" width="12.3" height="11" fill="#f9d3d8"/><rect x="547.3" y="201" width="12.3" height="11" fill="#fff"/><rect x="559.7" y="201" width="12.3" height="11" fill="#f9d3d8"/>
</g>
<g font-size="7.5" class="it" text-anchor="middle"><text x="504" y="154">f<tspan class="sb">1</tspan><tspan class="sp" dx="-2">g</tspan></text><text x="516.5" y="154">f<tspan class="sb">2</tspan><tspan class="sp" dx="-2">g</tspan></text><text x="528.8" y="154">f<tspan class="sb">3</tspan><tspan class="sp" dx="-2">g</tspan></text><text x="541.2" y="154">f<tspan class="sb">4</tspan><tspan class="sp" dx="-2">g</tspan></text><text x="553.5" y="154">⋯</text><text x="565.8" y="154">f<tspan class="sb">k</tspan><tspan class="sp" dx="-2">g</tspan></text></g>
<g font-size="7" class="it" text-anchor="end"><text x="495" y="165">d<tspan class="sb">1</tspan></text><text x="495" y="176">d<tspan class="sb">2</tspan></text><text x="495" y="187">d<tspan class="sb">3</tspan></text><text x="493" y="198" font-style="normal">⋮</text><text x="495" y="209">d<tspan class="sb">n</tspan></text></g>
<text class="sm" x="535" y="224" text-anchor="middle">Disease representation</text>
</g>

<!-- Pair representation -->
<g id="pair-representation">
<text class="sm" x="540" y="260" text-anchor="middle">PiRNA-disease</text>
<text class="sm" x="540" y="271" text-anchor="middle">pair representation</text>
<g class="cl">
<rect x="503" y="288" width="12.5" height="10.9" fill="#f3b283"/><rect x="515.5" y="288" width="12.5" height="10.9" fill="#fce0cc"/><rect x="528" y="288" width="12.5" height="10.9" fill="#fce0cc"/><rect x="540.5" y="288" width="12.5" height="10.9" fill="#fff"/><rect x="553" y="288" width="12.5" height="10.9" fill="#fad7dc"/><rect x="565.5" y="288" width="12.5" height="10.9" fill="#fad7dc"/>
<rect x="503" y="298.9" width="12.5" height="10.9" fill="#fff"/><rect x="515.5" y="298.9" width="12.5" height="10.9" fill="#fce0cc"/><rect x="528" y="298.9" width="12.5" height="10.9" fill="#f8cfae"/><rect x="540.5" y="298.9" width="12.5" height="10.9" fill="#fad7dc"/><rect x="553" y="298.9" width="12.5" height="10.9" fill="#fad7dc"/><rect x="565.5" y="298.9" width="12.5" height="10.9" fill="#fad7dc"/>
<rect x="503" y="309.8" width="12.5" height="10.9" fill="#fce0cc"/><rect x="515.5" y="309.8" width="12.5" height="10.9" fill="#fff"/><rect x="528" y="309.8" width="12.5" height="10.9" fill="#fce0cc"/><rect x="540.5" y="309.8" width="12.5" height="10.9" fill="#fad7dc"/><rect x="553" y="309.8" width="12.5" height="10.9" fill="#fad7dc"/><rect x="565.5" y="309.8" width="12.5" height="10.9" fill="#fad7dc"/>
<rect x="503" y="320.7" width="12.5" height="10.9" fill="#fce0cc"/><rect x="515.5" y="320.7" width="12.5" height="10.9" fill="#fce0cc"/><rect x="528" y="320.7" width="12.5" height="10.9" fill="#f8cfae"/><rect x="540.5" y="320.7" width="12.5" height="10.9" fill="#f08c94"/><rect x="553" y="320.7" width="12.5" height="10.9" fill="#fff"/><rect x="565.5" y="320.7" width="12.5" height="10.9" fill="#f08c94"/>
<rect x="503" y="331.6" width="12.5" height="10.9" fill="#fce0cc"/><rect x="515.5" y="331.6" width="12.5" height="10.9" fill="#f3b283"/><rect x="528" y="331.6" width="12.5" height="10.9" fill="#fce0cc"/><rect x="540.5" y="331.6" width="12.5" height="10.9" fill="#fad7dc"/><rect x="553" y="331.6" width="12.5" height="10.9" fill="#fad7dc"/><rect x="565.5" y="331.6" width="12.5" height="10.9" fill="#fad7dc"/>
<rect x="503" y="342.5" width="12.5" height="10.9" fill="#fce0cc"/><rect x="515.5" y="342.5" width="12.5" height="10.9" fill="#fce0cc"/><rect x="528" y="342.5" width="12.5" height="10.9" fill="#f8cfae"/><rect x="540.5" y="342.5" width="12.5" height="10.9" fill="#fad7dc"/><rect x="553" y="342.5" width="12.5" height="10.9" fill="#f08c94"/><rect x="565.5" y="342.5" width="12.5" height="10.9" fill="#fad7dc"/>
<rect x="503" y="353.4" width="12.5" height="10.9" fill="#fce0cc"/><rect x="515.5" y="353.4" width="12.5" height="10.9" fill="#fce0cc"/><rect x="528" y="353.4" width="12.5" height="10.9" fill="#fce0cc"/><rect x="540.5" y="353.4" width="12.5" height="10.9" fill="#f08c94"/><rect x="553" y="353.4" width="12.5" height="10.9" fill="#fad7dc"/><rect x="565.5" y="353.4" width="12.5" height="10.9" fill="#fad7dc"/>
<rect x="503" y="364.3" width="12.5" height="10.9" fill="#f3b283"/><rect x="515.5" y="364.3" width="12.5" height="10.9" fill="#fff"/><rect x="528" y="364.3" width="12.5" height="10.9" fill="#fce0cc"/><rect x="540.5" y="364.3" width="12.5" height="10.9" fill="#fad7dc"/><rect x="553" y="364.3" width="12.5" height="10.9" fill="#fad7dc"/><rect x="565.5" y="364.3" width="12.5" height="10.9" fill="#fad7dc"/>
<rect x="503" y="375.2" width="12.5" height="10.9" fill="#f3b283"/><rect x="515.5" y="375.2" width="12.5" height="10.9" fill="#fce0cc"/><rect x="528" y="375.2" width="12.5" height="10.9" fill="#f8cfae"/><rect x="540.5" y="375.2" width="12.5" height="10.9" fill="#fff"/><rect x="553" y="375.2" width="12.5" height="10.9" fill="#f08c94"/><rect x="565.5" y="375.2" width="12.5" height="10.9" fill="#fff"/>
<rect x="503" y="386.1" width="12.5" height="10.9" fill="#fce0cc"/><rect x="515.5" y="386.1" width="12.5" height="10.9" fill="#fce0cc"/><rect x="528" y="386.1" width="12.5" height="10.9" fill="#fff"/><rect x="540.5" y="386.1" width="12.5" height="10.9" fill="#fad7dc"/><rect x="553" y="386.1" width="12.5" height="10.9" fill="#fad7dc"/><rect x="565.5" y="386.1" width="12.5" height="10.9" fill="#fad7dc"/>
</g>
<g font-size="7" class="it" text-anchor="middle"><text x="508" y="285">f<tspan class="sb">1</tspan><tspan class="sp" dx="-2">l,p</tspan></text><text x="521" y="285">⋯</text><text x="533" y="285">f<tspan class="sb">k</tspan><tspan class="sp" dx="-2">l,p</tspan></text><text x="546" y="285">f<tspan class="sb">1</tspan><tspan class="sp" dx="-2">l,d</tspan></text><text x="559" y="285">⋯</text><text x="571" y="285">f<tspan class="sb">k</tspan><tspan class="sp" dx="-2">l,d</tspan></text></g>
<g font-size="6" text-anchor="end"><text x="501" y="295.5">&lt;p<tspan class="sb">1</tspan>-d<tspan class="sb">1</tspan>&gt;</text><text x="501" y="306.4">&lt;p<tspan class="sb">1</tspan>-d<tspan class="sb">2</tspan>&gt;</text><text x="501" y="317.3">&lt;p<tspan class="sb">1</tspan>-d<tspan class="sb">3</tspan>&gt;</text><text x="501" y="328.2">&lt;p<tspan class="sb">1</tspan>-d<tspan class="sb">4</tspan>&gt;</text><text x="501" y="339.1">&lt;p<tspan class="sb">1</tspan>-d<tspan class="sb">5</tspan>&gt;</text><text x="490" y="350">⋮</text><text x="501" y="360.9">&lt;p<tspan class="sb">i</tspan>-d<tspan class="sb">j</tspan>&gt;</text><text x="501" y="371.8">&lt;p<tspan class="sb">i</tspan>-d<tspan class="sb">j+1</tspan>&gt;</text><text x="490" y="382.7">⋮</text><text x="501" y="393.6">&lt;p<tspan class="sb">m</tspan>-d<tspan class="sb">n</tspan>&gt;</text></g>
</g>

<!-- Dense layers -->
<g id="dense-layer-pirna"><use href="#net"/><text class="sm" x="630" y="47" text-anchor="middle">Dense layer</text></g>
<g id="dense-layer-disease"><use href="#net" y="85"/><text class="sm" x="630" y="224" text-anchor="middle">Dense layer</text></g>

<!-- Features -->
<g id="pirna-feature">
<text class="sm" x="699" y="47" text-anchor="middle">PiRNA feature</text>
<g class="vc"><rect x="695" y="58" width="8" height="5" fill="#f8c290"/><rect x="695" y="63" width="8" height="5" fill="#fde3cc"/><rect x="695" y="68" width="8" height="5" fill="#fff"/><rect x="695" y="73" width="8" height="5" fill="#fbd3b2"/><rect x="695" y="78" width="8" height="5" fill="#f5ad76"/><rect x="695" y="83" width="8" height="5" fill="#f8c090"/><rect x="695" y="88" width="8" height="5" fill="#fbd8bc"/><rect x="695" y="93" width="8" height="5" fill="#fde6d2"/><rect x="695" y="98" width="8" height="5" fill="#f9cfae"/><rect x="695" y="103" width="8" height="5" fill="#fff"/><rect x="695" y="108" width="8" height="5" fill="#fde3cc"/><rect x="695" y="113" width="8" height="5" fill="#f3a464"/></g>
</g>
<g id="disease-feature">
<g class="vc"><rect x="695" y="152" width="8" height="5" fill="#fbdfe2"/><rect x="695" y="157" width="8" height="5" fill="#fff"/><rect x="695" y="162" width="8" height="5" fill="#fbd6da"/><rect x="695" y="167" width="8" height="5" fill="#f9c4ca"/><rect x="695" y="172" width="8" height="5" fill="#fbdfe2"/><rect x="695" y="177" width="8" height="5" fill="#f6b6bd"/><rect x="695" y="182" width="8" height="5" fill="#fff"/><rect x="695" y="187" width="8" height="5" fill="#fbd6da"/><rect x="695" y="192" width="8" height="5" fill="#fbdfe2"/><rect x="695" y="197" width="8" height="5" fill="#f49aa2"/><rect x="695" y="202" width="8" height="5" fill="#f6adb4"/><rect x="695" y="207" width="8" height="5" fill="#f7bcc2"/></g>
<text class="sm" x="699" y="224" text-anchor="middle">Disease feature</text>
</g>
<g id="product">
<circle cx="700" cy="136" r="4.2" fill="#fff" stroke="#333" stroke-width=".9"/>
<path d="M697 133L703 139M703 133L697 139" stroke="#333" stroke-width=".9"/>
</g>

<!-- Scores -->
<g id="global-score">
<text class="bs" x="743" y="85" text-anchor="middle">Global-level</text>
<text class="bs" x="743" y="96" text-anchor="middle">predicted score</text>
<g class="vc"><rect x="738" y="100" width="9" height="8" fill="#c8d4ee"/><rect x="738" y="108" width="9" height="8" fill="#fff"/><rect x="738" y="116" width="9" height="8" fill="#a8bce6"/><rect x="738" y="124" width="9" height="8" fill="#fff"/><rect x="738" y="132" width="9" height="8" fill="#d6def2"/><rect x="738" y="140" width="9" height="8" fill="#c8d4ee"/><rect x="738" y="148" width="9" height="8" fill="#fff"/><rect x="738" y="156" width="9" height="8" fill="#d0daf0"/><rect x="738" y="164" width="9" height="8" fill="#b8c8ea"/><rect x="738" y="172" width="9" height="8" fill="#90a8dc"/></g>
<text x="727" y="194" font-size="9" class="it">δ</text>
</g>
<g id="final-score">
<text class="bs" x="746" y="207" text-anchor="middle">Final predicted</text>
<text class="bs" x="746" y="217" text-anchor="middle">score</text>
<g class="vc"><rect x="740" y="220" width="9" height="7.5" fill="#d0daf0"/><rect x="740" y="227.5" width="9" height="7.5" fill="#fff"/><rect x="740" y="235" width="9" height="7.5" fill="#a8bce6"/><rect x="740" y="242.5" width="9" height="7.5" fill="#7f9ad6"/><rect x="740" y="250" width="9" height="7.5" fill="#d0daf0"/><rect x="740" y="257.5" width="9" height="7.5" fill="#a8bce6"/><rect x="740" y="265" width="9" height="7.5" fill="#c0ceec"/><rect x="740" y="272.5" width="9" height="7.5" fill="#fff"/><rect x="740" y="280" width="9" height="7.5" fill="#d0daf0"/><rect x="740" y="287.5" width="9" height="7.5" fill="#7f9ad6"/><rect x="740" y="295" width="9" height="7.5" fill="#8aa2da"/></g>
</g>

<!-- MLP -->
<g id="mlp">
<text class="sm" x="630" y="285" text-anchor="middle">Multi-layer</text>
<text class="sm" x="630" y="295" text-anchor="middle">perceptron</text>
<path class="nn" d="M600 312L624 300M600 312L624 312M600 312L624 322M600 312L624 335M600 312L624 357M600 312L624 368M600 312L624 380M600 325L624 300M600 325L624 312M600 325L624 322M600 325L624 335M600 325L624 357M600 325L624 368M600 325L624 380M600 338L624 300M600 338L624 312M600 338L624 322M600 338L624 335M600 338L624 357M600 338L624 368M600 338L624 380M600 357L624 300M600 357L624 312M600 357L624 322M600 357L624 335M600 357L624 357M600 357L624 368M600 357L624 380M600 370L624 300M600 370L624 312M600 370L624 322M600 370L624 335M600 370L624 357M600 370L624 368M600 370L624 380"/>
<path class="nn" d="M624 300L648 307M624 300L648 317M624 300L648 330M624 300L648 352M624 300L648 365M624 300L648 377M624 312L648 307M624 312L648 317M624 312L648 330M624 312L648 352M624 312L648 365M624 312L648 377M624 322L648 307M624 322L648 317M624 322L648 330M624 322L648 352M624 322L648 365M624 322L648 377M624 335L648 307M624 335L648 317M624 335L648 330M624 335L648 352M624 335L648 365M624 335L648 377M624 357L648 307M624 357L648 317M624 357L648 330M624 357L648 352M624 357L648 365M624 357L648 377M624 368L648 307M624 368L648 317M624 368L648 330M624 368L648 352M624 368L648 365M624 368L648 377M624 380L648 307M624 380L648 317M624 380L648 330M624 380L648 352M624 380L648 365M624 380L648 377"/>
<path class="nn" d="M648 307L669 341M648 317L669 341M648 330L669 341M648 352L669 341M648 365L669 341M648 377L669 341"/>
<g class="n1"><circle cx="600" cy="312" r="3.5"/><circle cx="600" cy="325" r="3.5"/><circle cx="600" cy="338" r="3.5"/><circle cx="600" cy="357" r="3.5"/><circle cx="600" cy="370" r="3.5"/><circle cx="669" cy="341" r="3.5"/></g>
<g class="n2"><circle cx="624" cy="300" r="3.5"/><circle cx="624" cy="312" r="3.5"/><circle cx="624" cy="322" r="3.5"/><circle cx="624" cy="335" r="3.5"/><circle cx="624" cy="357" r="3.5"/><circle cx="624" cy="368" r="3.5"/><circle cx="624" cy="380" r="3.5"/></g>
<g class="n3"><circle cx="648" cy="307" r="3.5"/><circle cx="648" cy="317" r="3.5"/><circle cx="648" cy="330" r="3.5"/><circle cx="648" cy="352" r="3.5"/><circle cx="648" cy="365" r="3.5"/><circle cx="648" cy="377" r="3.5"/></g>
<g font-size="7" text-anchor="middle"><text x="600" y="350">⋮</text><text x="624" y="349">⋮</text><text x="648" y="344">⋮</text></g>
</g>
<g id="local-score">
<text class="bs" x="698" y="285" text-anchor="middle">Local-level</text>
<text class="bs" x="698" y="295" text-anchor="middle">predicted score</text>
<g class="vc"><rect x="692" y="302" width="9" height="7.4" fill="#d0daf0"/><rect x="692" y="309.4" width="9" height="7.4" fill="#fff"/><rect x="692" y="316.8" width="9" height="7.4" fill="#d0daf0"/><rect x="692" y="324.2" width="9" height="7.4" fill="#a8bce6"/><rect x="692" y="331.6" width="9" height="7.4" fill="#d0daf0"/><rect x="692" y="339" width="9" height="7.4" fill="#a8bce6"/><rect x="692" y="346.4" width="9" height="7.4" fill="#fff"/><rect x="692" y="353.8" width="9" height="7.4" fill="#fff"/><rect x="692" y="361.2" width="9" height="7.4" fill="#d0daf0"/><rect x="692" y="368.6" width="9" height="7.4" fill="#c0ceec"/><rect x="692" y="376" width="9" height="7.4" fill="#8aa2da"/></g>
<text x="712" y="336" font-size="9">1 − <tspan class="it">δ</tspan></text>
</g>
</svg>
